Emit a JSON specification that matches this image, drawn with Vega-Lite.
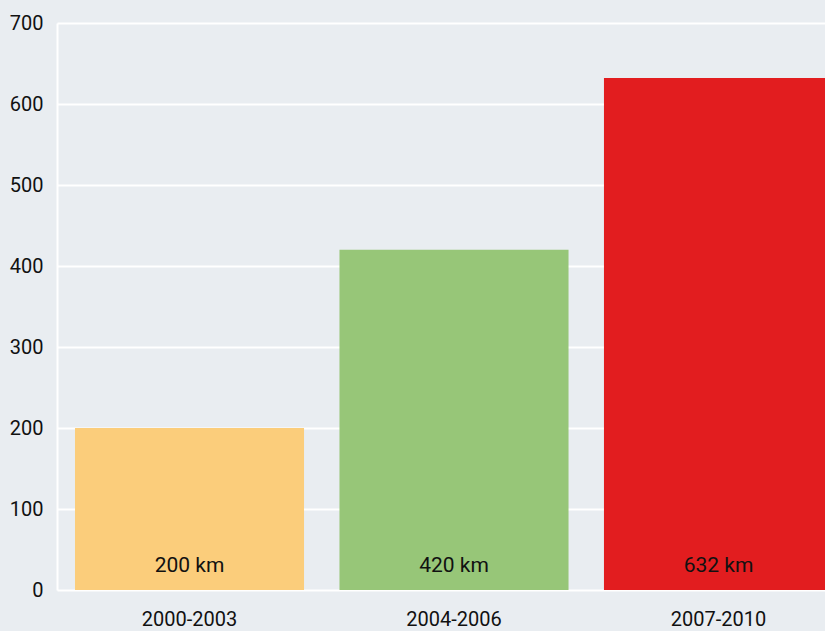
{
  "$schema": "https://vega.github.io/schema/vega-lite/v6.json",
  "autosize": "none",
  "width": 794,
  "height": 567,
  "padding": {"left": 57, "top": 23, "right": 0, "bottom": 41},
  "background": "#e9edf1",
  "config": {
    "view": {"stroke": null, "fill": "#e9edf1"},
    "font": "Roboto"
  },
  "data": {
    "values": [
      {"period": "2000-2003", "km": 200, "label": "200 km", "color": "#fbcd7b"},
      {"period": "2004-2006", "km": 420, "label": "420 km", "color": "#97c678"},
      {"period": "2007-2010", "km": 632, "label": "632 km", "color": "#e21d1f"}
    ]
  },
  "encoding": {
    "x": {
      "field": "period",
      "type": "nominal",
      "sort": null,
      "scale": {"paddingInner": 0.134, "paddingOuter": 0.068},
      "axis": {
        "title": null,
        "labelAngle": 0,
        "domain": false,
        "ticks": false,
        "labelFontSize": 20,
        "labelColor": "#111",
        "labelPadding": 19,
        "labelFont": "Roboto"
      }
    }
  },
  "layer": [
    {
      "mark": {"type": "bar"},
      "encoding": {
        "y": {
          "field": "km",
          "type": "quantitative",
          "scale": {"domain": [0, 700]},
          "axis": {
            "title": null,
            "values": [0, 100, 200, 300, 400, 500, 600, 700],
            "grid": true,
            "gridColor": "#ffffff",
            "gridWidth": 2,
            "gridOpacity": 1,
            "domain": true,
            "domainColor": "#ffffff",
            "domainWidth": 2,
            "ticks": false,
            "labelFontSize": 20,
            "labelColor": "#111",
            "labelPadding": 14,
            "labelFont": "Roboto"
          }
        },
        "color": {"field": "color", "type": "nominal", "scale": null}
      }
    },
    {
      "mark": {"type": "text", "baseline": "middle", "fontSize": 21, "color": "#111", "dy": -24, "font": "Roboto"},
      "encoding": {
        "y": {"datum": 0, "type": "quantitative"},
        "text": {"field": "label"}
      }
    }
  ]
}
